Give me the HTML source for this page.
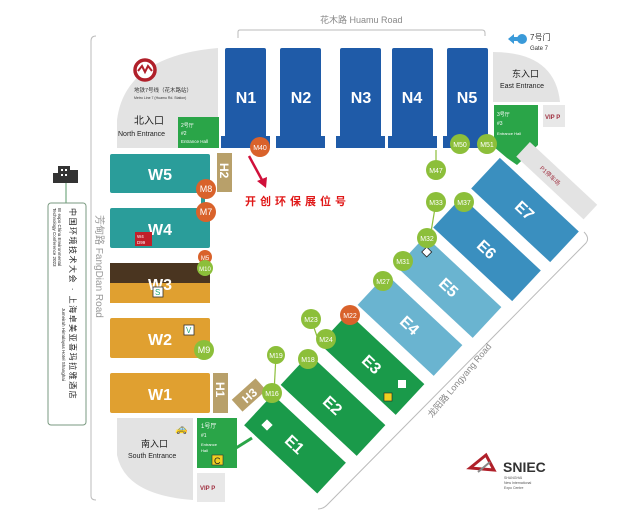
<!DOCTYPE html>
<html><head><meta charset="utf-8"><style>
html,body{margin:0;padding:0;background:#fff;}
svg{display:block;font-family:"Liberation Sans","Noto Sans CJK SC",sans-serif;}
</style></head><body>
<svg width="640" height="520" viewBox="0 0 640 520" xmlns="http://www.w3.org/2000/svg">
<rect width="640" height="520" fill="#fff"/>
<!-- roads -->
<path d="M238 38 V32 Q238 30 240 30 H482 Q485 30 485 33 V36" fill="none" stroke="#bbb" stroke-width="1"/>
<text x="320" y="23" font-size="9" fill="#888">花木路 Huamu Road</text>
<path d="M96 36 Q91 36 91 41 V496 Q91 500 96 500" fill="none" stroke="#bbb" stroke-width="1"/>
<text transform="translate(96,215) rotate(90)" font-size="10" fill="#999">芳甸路 FangDian Road</text>
<path d="M584 232 Q590 238 586 243 L327 505 Q323 509 318 509" fill="none" stroke="#bbb" stroke-width="1"/>
<text transform="translate(432,418) rotate(-50)" font-size="9" fill="#888">龙阳路  Longyang Road</text>

<!-- north gray -->
<path d="M117 148 V120 Q125 56 218 48 V148 Z" fill="#e3e3e3"/>
<circle cx="145" cy="70" r="10" fill="#fff" stroke="#b0202a" stroke-width="3.5"/>
<path d="M138 71 L142 66 L145 72 L148 66 L152 71" stroke="#b0202a" stroke-width="2" fill="none"/>
<text x="134" y="92" font-size="5.5" fill="#333">地铁7号线（花木路站）</text>
<text x="134" y="99" font-size="3.5" fill="#333">Metro Line 7 (Huamu Rd. Station)</text>
<text x="134" y="124" font-size="10" fill="#222">北入口</text>
<text x="118" y="136" font-size="7" fill="#222">North Entrance</text>
<rect x="178" y="117" width="41" height="31" fill="#2aa548"/>
<text x="181" y="127" font-size="5" fill="#fff">2号厅</text>
<text x="181" y="135" font-size="5" fill="#fff">#2</text>
<text x="181" y="143" font-size="4.5" fill="#fff">Entrance Hall</text>

<!-- N halls -->
<g fill="#1f5ba8">
<rect x="225" y="48" width="41" height="100" rx="2"/><rect x="221" y="136" width="49" height="12"/>
<rect x="280" y="48" width="41" height="100" rx="2"/><rect x="276" y="136" width="49" height="12"/>
<rect x="340" y="48" width="41" height="100" rx="2"/><rect x="336" y="136" width="49" height="12"/>
<rect x="392" y="48" width="41" height="100" rx="2"/><rect x="388" y="136" width="49" height="12"/>
<rect x="447" y="48" width="41" height="100" rx="2"/><rect x="443" y="136" width="46" height="12"/>
</g>
<g font-size="16" font-weight="bold" fill="#fff" text-anchor="middle">
<text x="246" y="103">N1</text><text x="301" y="103">N2</text><text x="361" y="103">N3</text><text x="412" y="103">N4</text><text x="467" y="103">N5</text>
</g>

<!-- gate 7 -->
<path d="M508 39 L514 34 V37 H520 V41 H514 V44 Z" fill="#3a9ad9"/>
<circle cx="522" cy="39" r="5" fill="#3a9ad9"/>
<text x="530" y="40" font-size="8" fill="#333">7号门</text>
<text x="530" y="50" font-size="6" fill="#333">Gate 7</text>

<!-- east -->
<path d="M493 102 V52 Q555 52 560 102 Z" fill="#e3e3e3"/>
<text x="512" y="77" font-size="9" fill="#222">东入口</text>
<text x="500" y="88" font-size="7" fill="#222">East Entrance</text>
<rect x="543" y="105" width="22" height="22" fill="#e8e8e8"/>
<text x="545" y="119" font-size="6" fill="#a03040" font-weight="bold">VIP P</text>
<path d="M494 105 H538 V145 L517 165 L507 158 L494 147 Z" fill="#2aa548"/>
<text x="497" y="116" font-size="5" fill="#fff">3号厅</text>
<text x="497" y="125" font-size="5" fill="#fff">#3</text>
<text x="497" y="135" font-size="4" fill="#fff">Entrance Hall</text>
<g transform="translate(556,180) rotate(43)"><rect x="-45" y="-10" width="92" height="20" fill="#e3e3e3"/>
<text x="-20" y="3" font-size="6" fill="#a03040">P1停车场</text></g>

<!-- West halls -->
<rect x="110" y="154" width="100" height="39" fill="#2a9d9a" rx="2"/>
<rect x="217" y="153" width="15" height="39" fill="#b8a06a"/>
<text transform="translate(220,163) rotate(90)" font-size="12" font-weight="bold" fill="#fff">H2</text>
<rect x="110" y="208" width="100" height="40" fill="#2a9d9a" rx="2"/>
<rect x="110" y="263" width="100" height="20" fill="#4a3520"/>
<rect x="110" y="283" width="100" height="20" fill="#e0a030"/>
<rect x="110" y="318" width="100" height="40" fill="#e0a030" rx="2"/>
<rect x="110" y="373" width="100" height="40" fill="#e0a030" rx="2"/>
<rect x="213" y="373" width="15" height="40" fill="#b8a06a"/>
<text transform="translate(216,382) rotate(90)" font-size="12" font-weight="bold" fill="#fff">H1</text>
<g font-size="16" font-weight="bold" fill="#fff" text-anchor="middle">
<text x="160" y="180">W5</text><text x="160" y="235">W4</text><text x="160" y="290">W3</text><text x="160" y="345">W2</text><text x="160" y="400">W1</text>
</g>
<rect x="135" y="232" width="17" height="14" fill="#c0202a"/>
<text x="137" y="238" font-size="4.5" fill="#fff">W4</text><text x="137" y="244" font-size="4.5" fill="#fff">D99</text>
<rect x="153" y="287" width="10" height="10" fill="#fff" stroke="#333" stroke-width="0.8"/><text x="155" y="295" font-size="8" fill="#2a7">S</text>
<rect x="184" y="325" width="10" height="10" fill="#fff" stroke="#333" stroke-width="0.8"/><text x="186" y="333" font-size="8" fill="#2a7">V</text>
<rect x="201" y="193" width="4" height="15" fill="#2a9d9a"/>

<!-- south -->
<path d="M117 418 H193 V500 Q125 495 117 455 Z" fill="#e3e3e3"/>
<text x="141" y="447" font-size="9" fill="#222">南入口</text>
<text x="128" y="458" font-size="7" fill="#222">South Entrance</text>
<text x="175" y="432" font-size="10" fill="#444">🚕</text>
<rect x="197" y="418" width="40" height="50" fill="#2aa548"/>
<text x="201" y="428" font-size="6" fill="#fff">1号厅</text>
<text x="201" y="437" font-size="5" fill="#fff">#1</text>
<text x="201" y="446" font-size="4" fill="#fff">Entrance</text>
<text x="201" y="452" font-size="4" fill="#fff">Hall</text>
<rect x="212" y="455" width="11" height="10" fill="#f0d020" stroke="#333" stroke-width="0.6"/><text x="214" y="464" font-size="9" fill="#222">C</text>
<rect x="197" y="473" width="28" height="29" fill="#e8e8e8"/>
<text x="200" y="490" font-size="6" fill="#a03040" font-weight="bold">VIP P</text>
<path d="M236 448 L252 438" stroke="#2aa548" stroke-width="3"/>

<!-- H3 -->
<g transform="translate(249,395) rotate(-42)"><rect x="-16" y="-8" width="32" height="16" fill="#b8a06a"/>
<text x="0" y="5" font-size="12" font-weight="bold" fill="#fff" text-anchor="middle">H3</text></g>

<!-- E halls -->
<g font-size="16" font-weight="bold" fill="#fff" text-anchor="middle">
<g transform="translate(295,444) rotate(43)"><rect x="-50" y="-21" width="100" height="42" fill="#1a9a4a"/><text y="6">E1</text></g>
<g transform="translate(333,405) rotate(43)"><rect x="-52" y="-21" width="104" height="42" fill="#1a9a4a"/><text y="6">E2</text></g>
<g transform="translate(372,364) rotate(43)"><rect x="-52" y="-21" width="104" height="42" fill="#1a9a4a"/><text y="6">E3</text></g>
<g transform="translate(410,325) rotate(43)"><rect x="-52" y="-21" width="104" height="42" fill="#6ab4d0"/><text y="6">E4</text></g>
<g transform="translate(449,287) rotate(43)"><rect x="-52" y="-21" width="104" height="42" fill="#6ab4d0"/><text y="6">E5</text></g>
<g transform="translate(487,249) rotate(43)"><rect x="-54" y="-21" width="108" height="42" fill="#3a8fbf"/><text y="6">E6</text></g>
<g transform="translate(525,210) rotate(43)"><rect x="-54" y="-21" width="108" height="42" fill="#3a8fbf"/><text y="6">E7</text></g>
</g>
<rect x="263" y="421" width="8" height="8" fill="#fff" transform="rotate(45 267 425)"/>
<rect x="384" y="393" width="8" height="8" fill="#f0d020" stroke="#222" stroke-width="0.6"/>
<rect x="398" y="380" width="8" height="8" fill="#fff"/>
<rect x="423" y="248" width="7" height="7" fill="#fff" stroke="#222" stroke-width="0.8" transform="rotate(45 426 252)"/>

<!-- connectors -->
<g stroke="#8cbf3a" stroke-width="1.2">
<line x1="276" y1="355" x2="274" y2="393"/><line x1="311" y1="319" x2="320" y2="345"/>
<line x1="436" y1="170" x2="436" y2="150"/><line x1="436" y1="202" x2="430" y2="238"/>
</g>

<!-- M circles -->
<g font-size="7" fill="#fff" text-anchor="middle">
<g fill="#d9622b"><circle cx="260" cy="147" r="10"/><circle cx="206" cy="189" r="10"/><circle cx="206" cy="212" r="10"/><circle cx="205" cy="257" r="7"/><circle cx="350" cy="315" r="10"/></g>
<g fill="#8cbf3a"><circle cx="205" cy="268" r="8"/><circle cx="204" cy="350" r="10"/><circle cx="272" cy="393" r="10"/><circle cx="276" cy="355" r="9"/><circle cx="308" cy="359" r="10"/><circle cx="311" cy="319" r="10"/><circle cx="326" cy="339" r="10"/><circle cx="383" cy="281" r="10"/><circle cx="403" cy="261" r="10"/><circle cx="427" cy="238" r="10"/><circle cx="436" cy="202" r="10"/><circle cx="464" cy="202" r="10"/><circle cx="436" cy="170" r="10"/><circle cx="460" cy="144" r="10"/><circle cx="487" cy="144" r="10"/></g>
<text x="260" y="150">M40</text><text x="206" y="192" font-size="9">M8</text><text x="206" y="215" font-size="9">M7</text><text x="205" y="260" font-size="6">M5</text><text x="205" y="271" font-size="6">M10</text><text x="350" y="318">M22</text>
<text x="204" y="353" font-size="9">M9</text><text x="272" y="396">M16</text><text x="276" y="358">M19</text><text x="308" y="362">M18</text><text x="311" y="322">M23</text><text x="326" y="342">M24</text><text x="383" y="284">M27</text><text x="403" y="264">M31</text><text x="427" y="241">M32</text><text x="436" y="205">M33</text><text x="464" y="205">M37</text><text x="436" y="173">M47</text><text x="460" y="147">M50</text><text x="487" y="147">M51</text>
</g>

<!-- red annotation -->
<path d="M249 156 L262 180" stroke="#d0103a" stroke-width="2.5"/>
<path d="M257 181 L266 188 L267 177 Z" fill="#d0103a"/>
<text x="245" y="205" font-size="11" font-weight="bold" fill="#e01818" letter-spacing="4">开创环保展位号</text>

<!-- left box -->
<g fill="#333"><rect x="58" y="166" width="12" height="17"/><rect x="53" y="173" width="5" height="10"/><rect x="70" y="170" width="8" height="13"/></g>
<g fill="#fff"><rect x="61" y="169" width="2" height="2"/><rect x="65" y="169" width="2" height="2"/><rect x="61" y="174" width="2" height="2"/><rect x="65" y="174" width="2" height="2"/></g>
<line x1="66" y1="183" x2="66" y2="203" stroke="#5a9a6a"/>
<rect x="48" y="203" width="38" height="222" rx="3" fill="#fff" stroke="#7a9a80" stroke-width="1"/>
<text transform="translate(70,208) rotate(90)" font-size="8" fill="#222" letter-spacing="1.5">中国环境技术大会 · 上海卓美亚喜玛拉雅酒店</text>
<text transform="translate(58,208) rotate(90)" font-size="4.5" fill="#222">IE expo China Environmental</text>
<text transform="translate(53,208) rotate(90)" font-size="4.5" fill="#222">Technology Conference 2023</text>
<text transform="translate(62,308) rotate(90)" font-size="4.5" fill="#222">Jumeirah Himalayas Hotel Shanghai</text>

<!-- SNIEC -->
<path d="M470 468 L486 455 L494 470 Z" fill="none" stroke="#b0202a" stroke-width="3"/>
<path d="M478 472 L490 462" stroke="#888" stroke-width="2"/>
<text x="503" y="472" font-size="14" font-weight="bold" fill="#333">SNIEC</text>
<text x="504" y="479" font-size="3.5" fill="#555">SHANGHAI</text>
<text x="504" y="484" font-size="3.5" fill="#555">New International</text>
<text x="504" y="489" font-size="3.5" fill="#555">Expo Centre</text>
</svg>
</body></html>
